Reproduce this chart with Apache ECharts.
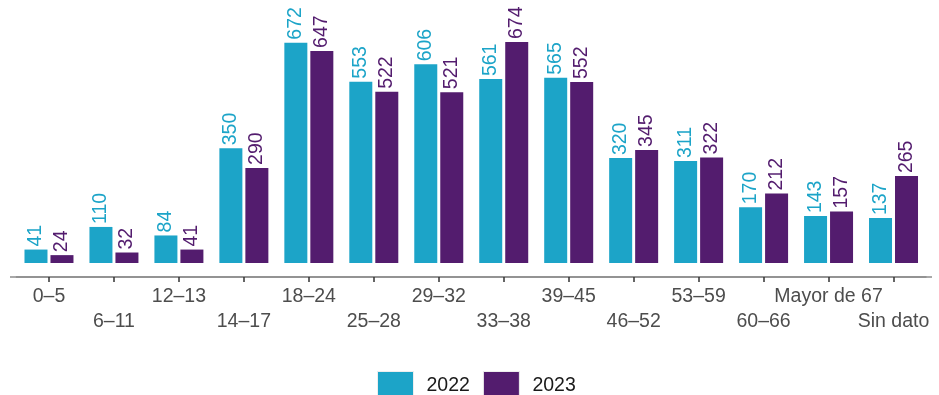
<!DOCTYPE html>
<html>
<head>
<meta charset="utf-8">
<script src="https://cdn.jsdelivr.net/npm/echarts@6/dist/echarts.min.js"></script>
<style>
html,body{margin:0;padding:0;background:#fff;}
#chart{width:939px;height:395px;}
</style>
</head>
<body>
<div id="chart"></div>
<script>
const categories = ["0–5","6–11","12–13","14–17","18–24","25–28","29–32","33–38","39–45","46–52","53–59","60–66","Mayor de 67","Sin dato"];
const values2022 = [41,110,84,350,672,553,606,561,565,320,311,170,143,137];
const values2023 = [24,32,41,290,647,522,521,674,552,345,322,212,157,265];
const seriesNames = ["2022","2023"];
const colors = ["#1CA4C8","#531C6E"];

const FONT = "'Liberation Sans', Arial, sans-serif";
const chart = echarts.init(document.getElementById('chart'), null, {renderer:'canvas'});

function mkSeries(name, data, color){
  return {
    name: name, type: 'bar', data: data,
    barWidth: 23, barGap: '13%',
    itemStyle: {color: color},
    label: {
      show: true, position: 'top', rotate: 90, distance: 3,
      align: 'left', verticalAlign: 'middle',
      color: color, fontSize: 19.5, fontFamily: FONT
    }
  };
}

chart.setOption({
  animation: false,
  textStyle: {fontFamily: FONT},
  grid: {left: 16.5, right: 13, top: 10, bottom: 118, containLabel: false},
  legend: {
    data: seriesNames, left: 372, top: 366,
    itemWidth: 36, itemHeight: 29, itemGap: 13,
    icon: 'rect',
    itemStyle: {borderColor: '#eeeeee', borderWidth: 1},
    textStyle: {fontSize: 19.5, color: '#1a1a1a', fontFamily: FONT, padding: [0,0,0,8]}
  },
  xAxis: {
    type: 'category', data: categories,
    axisLine: {show: true, onZero: false, lineStyle: {color: '#8c8c8c', width: 1.5}},
    axisTick: {show: true, alignWithLabel: true, length: 5, lineStyle: {color: '#333333', width: 1.5}},
    axisLabel: {
      interval: 0, margin: 7, fontSize: 19.5, lineHeight: 25, color: '#4d4d4d', fontFamily: FONT,
      formatter: function(v, i){ return i % 2 === 1 ? '\n' + v : v; }
    }
  },
  yAxis: {
    type: 'value', min: -42.7, max: 771.7, show: false,
    splitLine: {show: false}
  },
  graphic: [
    {type: 'line', shape: {x1: 10, y1: 277, x2: 932, y2: 277}, style: {stroke: '#8c8c8c', lineWidth: 1.5}, z: 0}
  ],
  series: [mkSeries(seriesNames[0], values2022, colors[0]), mkSeries(seriesNames[1], values2023, colors[1])]
});
</script>
</body>
</html>
